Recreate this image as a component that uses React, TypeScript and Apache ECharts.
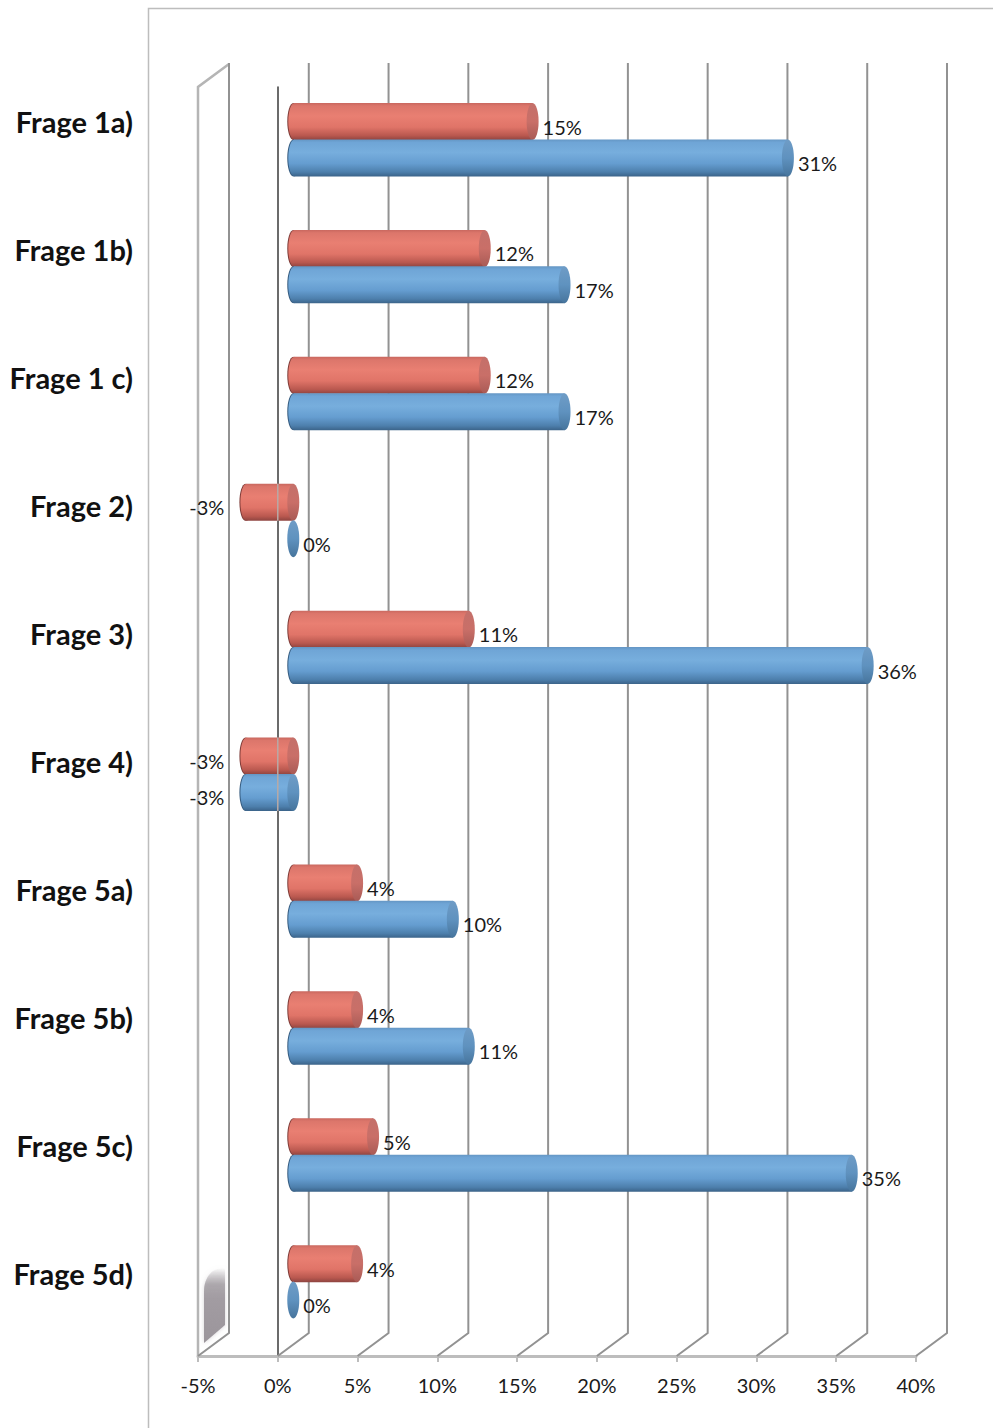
import React, { useEffect, useRef } from "react";
import * as echarts from "echarts";

const categories = ["Frage 1a)", "Frage 1b)", "Frage 1 c)", "Frage 2)", "Frage 3)", "Frage 4)", "Frage 5a)", "Frage 5b)", "Frage 5c)", "Frage 5d)"];
const redValues = [15, 12, 12, -3, 11, -3, 4, 4, 5, 4];
const blueValues = [31, 17, 17, 0, 36, -3, 10, 11, 35, 0];
const axisTicks = [-5, 0, 5, 10, 15, 20, 25, 30, 35, 40];

const FONT = "Lato, 'Noto Sans', sans-serif";
const DEPTH_X = 31;
const DEPTH_Y = 23;
const BAR_H = 37;
const CAP_RX = 6;

const grad = (stops: [number, string][]) =>
  new echarts.graphic.LinearGradient(0, 0, 0, 1, stops.map(([offset, color]) => ({ offset, color })));

const palettes = {
  red: {
    body: () => grad([[0, "#c9685f"], [0.08, "#dc766b"], [0.35, "#e97f72"], [0.65, "#e07468"], [0.88, "#b9584f"], [1, "#8e4440"]]),
    cap: () => grad([[0, "#c4706a"], [0.5, "#c96f68"], [1, "#a85a55"]]),
    rim: "#7d3a36",
  },
  blue: {
    body: () => grad([[0, "#6496c4"], [0.08, "#6fa5d6"], [0.35, "#77aedd"], [0.65, "#659dd0"], [0.88, "#4d7fac"], [1, "#3b6389"]]),
    cap: () => grad([[0, "#6f9cc6"], [0.5, "#5f92bf"], [1, "#46749c"]]),
    rim: "#33597d",
  },
};

// Cylinder bar in the chart's pseudo-3D plane, with its value label.
const cylinder = (palette: typeof palettes.red, shiftY: number) => (_: any, api: any) => {
  const value = api.value(0);
  const index = api.value(1);
  const [endX, bandY] = api.coord([value, index]);
  const zeroX = api.coord([0, index])[0];
  const depth = DEPTH_X / 2;
  const cy = bandY + shiftY;
  const top = cy - BAR_H / 2;
  const left = Math.min(zeroX, endX) + depth;
  const right = Math.max(zeroX, endX) + depth;
  const tip = endX + depth;
  const children: any[] = [];
  if (right > left) {
    children.push(
      { type: "ellipse", shape: { cx: left, cy, rx: CAP_RX, ry: BAR_H / 2 }, style: { fill: palette.rim } },
      { type: "ellipse", shape: { cx: left + 1, cy, rx: CAP_RX, ry: BAR_H / 2 }, style: { fill: palette.body() } },
      { type: "rect", shape: { x: left + 1, y: top, width: right - left - 1, height: BAR_H }, style: { fill: palette.body() } },
    );
  }
  children.push({ type: "ellipse", shape: { cx: right, cy, rx: CAP_RX, ry: BAR_H / 2 }, style: { fill: palette.cap() } });
  if (value < 0) {
    // the zero line shows faintly through bars that cross it
    children.push({
      type: "line",
      shape: { x1: zeroX, y1: top, x2: zeroX, y2: top + BAR_H },
      style: { stroke: "#b9a9a6", lineWidth: 1.5 },
    });
  }
  children.push({
    type: "text",
    style: {
      x: value < 0 ? tip - 21 : tip + 10,
      y: cy + 5,
      text: `${value}%`,
      fill: "#1a1a1a",
      font: `20px ${FONT}`,
      align: value < 0 ? "right" : "left",
      verticalAlign: "middle",
    },
  });
  return { type: "group", children };
};

// Outline of the shaded patch low on the side wall.
const SMUDGE = "M 1 78 L 1 26 C 1 12 10 3 19 3 L 22 3 L 22 60 Z";

export default function App() {
  const ref = useRef<HTMLDivElement>(null);
  useEffect(() => {
    document.body.style.margin = "0";
    echarts.graphic.registerShape("wallSmudge", echarts.graphic.extendPath(SMUDGE, {}) as any);
    const chart = echarts.init(ref.current!, undefined, { renderer: "svg" });
    chart.setOption({
      animation: false,
      backgroundColor: "#ffffff",
      grid: [
        { left: 198, width: 718, top: 87, height: 1269, containLabel: false },
        { left: 133, width: 10, top: 58, height: 1279 },
      ],
      xAxis: [
        {
          type: "value",
          gridIndex: 0,
          min: -5,
          max: 40,
          interval: 5,
          position: "bottom",
          splitLine: { show: false },
          axisLine: { show: true, onZero: false, lineStyle: { color: "#bdbdbd", width: 3 } },
          axisTick: { show: true, length: 6, lineStyle: { color: "#bdbdbd", width: 2 } },
          axisLabel: {
            margin: 19,
            color: "#1a1a1a",
            fontFamily: FONT,
            fontSize: 20,
            formatter: (v: number) => `${v}%`,
          },
        },
        { type: "value", gridIndex: 1, show: false },
      ],
      yAxis: [
        {
          type: "category",
          gridIndex: 0,
          inverse: true,
          data: categories,
          axisLine: { show: true, onZero: true, lineStyle: { color: "#3a3a3a", width: 1.5 } },
          axisTick: { show: false },
          axisLabel: { show: false },
        },
        {
          type: "category",
          gridIndex: 1,
          inverse: true,
          data: categories,
          axisLine: { show: false },
          axisTick: { show: false },
          axisLabel: { margin: 0, color: "#111111", fontFamily: FONT, fontWeight: "bold", fontSize: 29 },
        },
      ],
      series: [
        {
          type: "custom",
          name: "grid",
          xAxisIndex: 0,
          yAxisIndex: 0,
          z: 1,
          silent: true,
          clip: false,
          data: axisTicks.map((t) => [t, 0]),
          // back-wall gridline plus the diagonal joining it to the floor tick
          renderItem: (p: any, api: any) => {
            const x = api.coord([api.value(0), 0])[0];
            const floor = p.coordSys.y + p.coordSys.height;
            const roof = p.coordSys.y;
            return {
              type: "polyline",
              shape: { points: [[x + DEPTH_X, roof - DEPTH_Y - 1], [x + DEPTH_X, floor - DEPTH_Y], [x, floor]] },
              style: { stroke: "#929292", lineWidth: 2, fill: "none" },
            };
          },
        },
        {
          type: "custom",
          name: "Rot",
          xAxisIndex: 0,
          yAxisIndex: 0,
          z: 3,
          clip: false,
          data: redValues.map((v, i) => [v, i]),
          renderItem: cylinder(palettes.red, -28.9),
        },
        {
          type: "custom",
          name: "Blau",
          xAxisIndex: 0,
          yAxisIndex: 0,
          z: 4,
          clip: false,
          data: blueValues.map((v, i) => [v, i]),
          renderItem: cylinder(palettes.blue, 7.5),
        },
      ],
      graphic: [
        // outer chart frame
        { type: "polyline", z: 0, shape: { points: [[148.5, 1428], [148.5, 8.5], [993, 8.5]] }, style: { stroke: "#bdbdbd", lineWidth: 1.5, fill: "none" } },
        // left side wall
        { type: "polyline", z: 0, shape: { points: [[198, 1356], [198, 87], [229, 64]] }, style: { stroke: "#b5b5b5", lineWidth: 2.5, fill: "none" } },
        // shaded patch low on the side wall, fading out towards its top
        {
          type: "wallSmudge",
          x: 203,
          y: 1265,
          z: 0,
          style: {
            fill: new echarts.graphic.LinearGradient(0, 0, 0, 1, [
              { offset: 0, color: "rgba(160,155,160,0)" },
              { offset: 0.22, color: "rgba(160,155,160,0.8)" },
              { offset: 0.4, color: "#a29ca2" },
              { offset: 1, color: "#9b959b" },
            ]),
            shadowBlur: 4,
            shadowColor: "rgba(170,165,170,0.5)",
          },
        },
      ],
    });
    return () => chart.dispose();
  }, []);
  return <div ref={ref} style={{ position: "absolute", left: 0, top: 0, width: 993, height: 1428 }} />;
}
